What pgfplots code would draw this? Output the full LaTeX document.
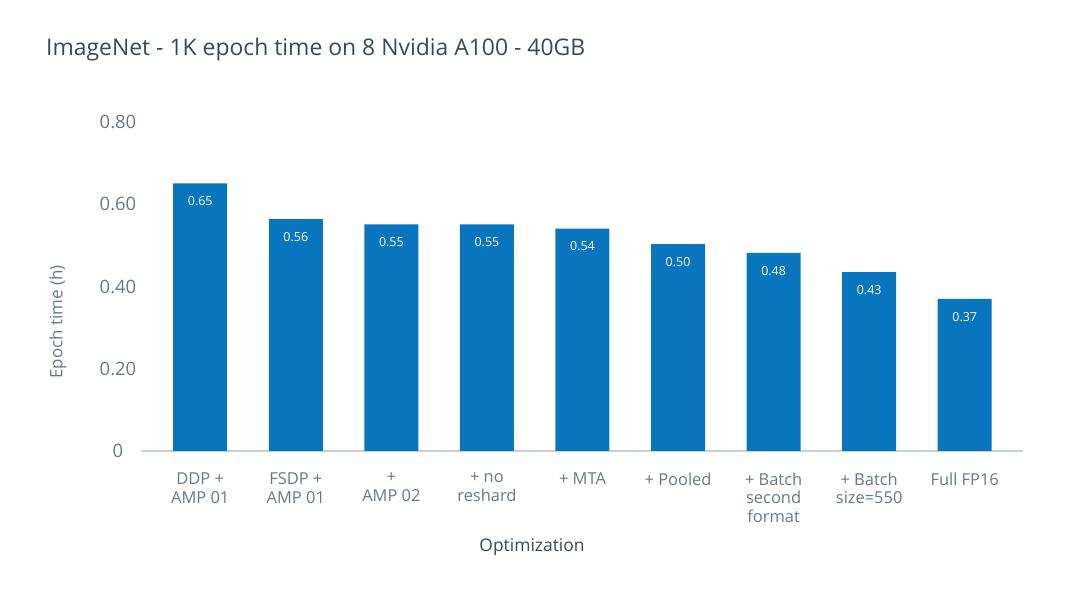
\documentclass[border=0pt]{standalone}
\usepackage{pgfplots}
\pgfplotsset{compat=1.18}
\usepackage{pgfplotstable}
\usepackage{fontspec}
\setmainfont{Open Sans}
\definecolor{barblue}{RGB}{10,117,191}
\definecolor{titlec}{RGB}{60,72,85}
\definecolor{tickc}{RGB}{107,119,133}
\definecolor{axisc}{RGB}{200,208,216}
\pgfplotstableread{
x y lab
0 0.651 0.65
1 0.564 0.56
2 0.551 0.55
3 0.551 0.55
4 0.541 0.54
5 0.503 0.50
6 0.482 0.48
7 0.435 0.43
8 0.370 0.37
}\datatable
\begin{document}
\begin{tikzpicture}
\path[use as bounding box] (0bp,0bp) rectangle (1080bp,608bp);
\node[anchor=west, text=titlec, font=\fontsize{23}{27}\selectfont, inner sep=0pt] at (46bp,558bp) {ImageNet - 1K epoch time on 8 Nvidia A100 - 40GB};
\node[rotate=90, text=tickc, font=\fontsize{17}{20}\selectfont, inner sep=0pt] at (58bp,286bp) {Epoch time (h)};
\node[text=titlec, font=\fontsize{17.5}{20}\selectfont, inner sep=0pt] at (532bp,61bp) {Optimization};
\begin{axis}[
  at={(141bp,157bp)}, anchor=south west, scale only axis,
  width=882bp, height=329bp,
  ymin=0, ymax=0.8, xmin=-0.62, xmax=8.61,
  ybar, bar width=54bp,
  axis x line*=bottom, axis y line*=left,
  x axis line style={draw=axisc, line width=2bp, -},
  y axis line style={draw=none},
  major tick length=0pt,
  ytick={0,0.2,0.4,0.6,0.8}, yticklabels={0,0.20,0.40,0.60,0.80},
  yticklabel style={text=tickc, font=\fontsize{18.5}{21}\selectfont, anchor=center, xshift=-23bp},
  xtick={0,...,8},
  xticklabels={{DDP +\\AMP 01},{FSDP +\\AMP 01},{+\\AMP 02},{+ no\\reshard},{+ MTA},{+ Pooled},{+ Batch\\second\\format},{+ Batch\\size=550},{Full FP16}},
  xticklabel style={text=tickc, font=\fontsize{16.5}{19}\selectfont, align=center, anchor=north, yshift=-18bp},
  /pgf/number format/assume math mode=true,
  nodes near coords,
  point meta=explicit symbolic,
  every node near coord/.append style={text=white, font=\fontsize{12.5}{15}\selectfont, anchor=center, yshift=-18bp},
  clip=false,
]
\addplot[fill=barblue, draw=none] table[x=x, y=y, meta=lab] {\datatable};
\end{axis}
\end{tikzpicture}
\end{document}
